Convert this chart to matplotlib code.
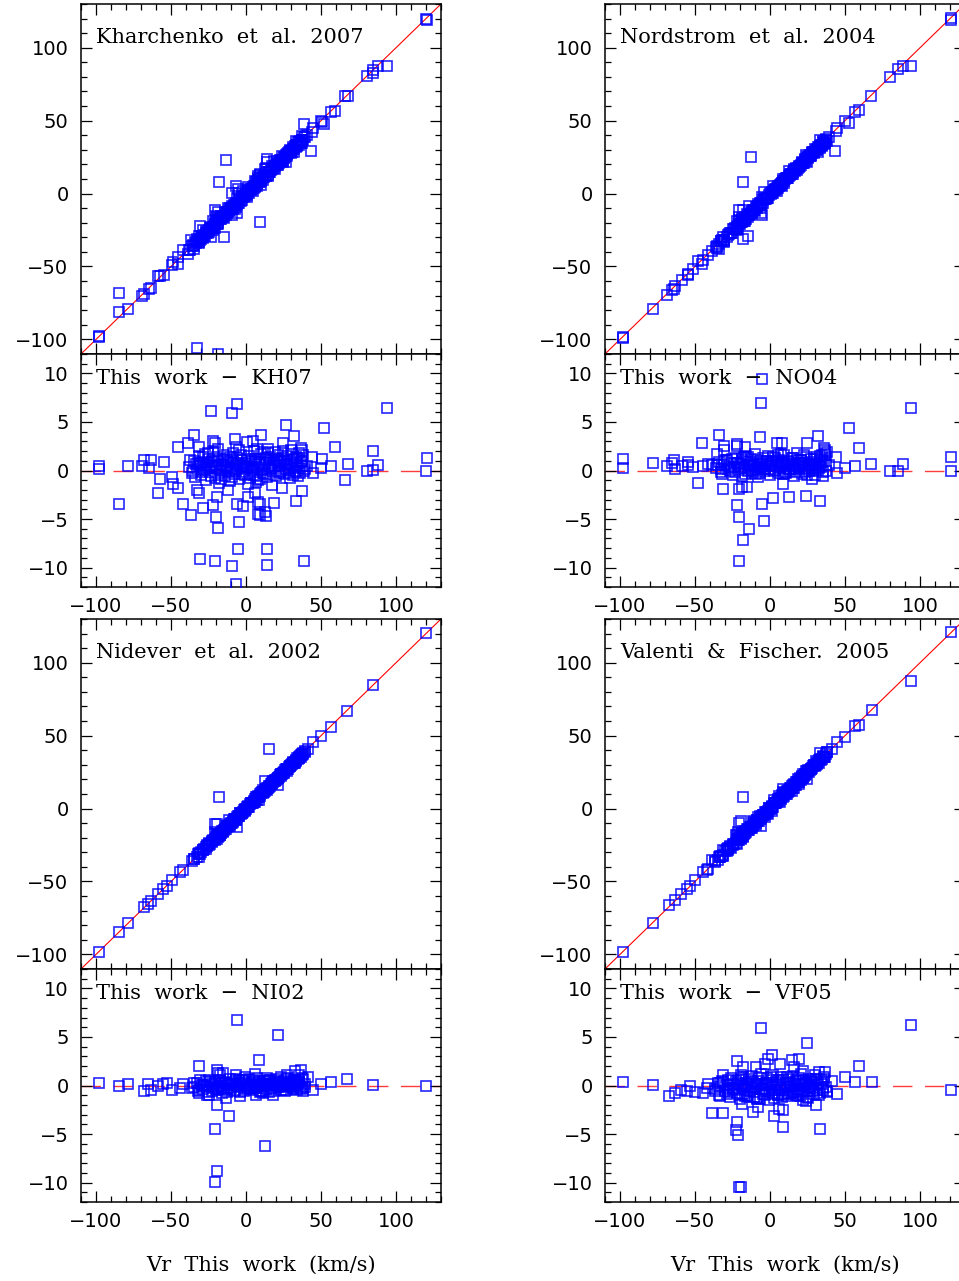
import numpy as np
import matplotlib.pyplot as plt
from matplotlib.ticker import MultipleLocator

# ---- Kharchenko et al. 2007 (KH07) ----
# x = Vr this work, d = this work - literature
kh_sx = [-97.8, -97.8, -78.4, -84.4, -68, -63.5, -69.6, -65, -59, -57.3, -55, -49.6, -48.4, -45.6,
         -45.6, -41.8, -38.9, -36.7, -34.4, -31.3, -31, -28.9, -32.9, -31.3, -23.6, -22.2, -20.7,
         -20.2, -18.4, -21.8, -20.7, -19.1, -11.8, -9.6, -9.1, -6.2, -6.7, -5.1, -4.7, -7.3, -6.7,
         -6.2, -1.8, 0.4, 4.9, 7.1, 9.8, 1.6, 6.2, 7.8, 9.1, 7.8, 9.1, 12.7, 13.1, 13.8, 14.2, 18.9,
         23.8, 24.4, 26.4, 32, 33.1, 37.1, 38.7, 36.7, 37.1, 43.8, 44.9, 50.4, 50, 52.2, 56.7, 59.3,
         66, 67.8, 80.4, 84.4, 84.9, 88.2, 93.8, 120.4, 120]
kh_sd = [0.5, 0.2, 0.5, -3.4, 1.1, 1.1, 0.5, 0.3, -2.3, -0.9, 0.9, -0.7, -1.4, -1.8,
         2.4, -3.4, 2.8, -4.6, 3.7, 2.4, -9.1, -3.9, -2.0, -2.3, 6.1, -3.6, -9.3,
         -4.8, -5.9, 3.0, 2.8, -2.7, -2.0, -9.8, 5.9, 6.9, -11.7, -8.1, -5.3, 3.2, 2.4,
         -3.4, -3.7, 2.9, 3.0, 2.2, 3.7, -2.7, -2.3, -3.2, -3.4, -4.5, -4.6, -4.3, -4.7, -8.1, -9.7, -3.3,
         -1.8, 2.8, 4.7, 3.6, -3.1, -2.1, -9.3, 2.3, 2.1, 1.4, -0.3, 1.2, 0.3, 4.4, 0.5, 2.4,
         -1.0, 0.7, 0.0, 2.0, 0.1, 0.6, 6.4, 1.3, -0.03]
kh_cx = [-38, -36, -35, -33, -32, -30, -29, -28, -27, -26,
         -25, -24, -23, -22, -21, -20, -19, -18, -17, -16,
         -15, -14, -13, -12, -11, -10, -9, -8, -7, -6,
         -5, -4, -3, -2, -1, 0, 1, 2, 3, 4,
         5, 6, 7, 8, 9, 10, 11, 12, 13, 14,
         15, 16, 17, 18, 19, 20, 21, 22, 23, 24,
         25, 26, 27, 28, 29, 30, 31, 32, 33, 34,
         35, 36, 37, 38, 39, -34, -31, -27.5, -24.5, -19.5,
         -15.5, -11.5, -8.5, -4.5, -0.5, 3.5, 7.5, 11.5, 16.5, 21.5,
         26.5, 31.5, 36.5, -21.5, -13.5, -6.5, 1.5, 9.5, 18.5, 27.5,
         -37.5, -35.5, -33.5, -31.5, -29.5, -28.5, -26.5, -25.5, -23.5, -22.5,
         -20.5, -18.5, -17.5, -16.5, -14.5, -12.5, -10.5, -9.5, -7.5, -5.5,
         -3.5, -2.5, -1.5, 0.5, 2.5, 4.5, 5.5, 6.5, 8.5, 10.5,
         12.5, 13.5, 14.5, 15.5, 17.5, 19.5, 20.5, 22.5, 23.5, 24.5,
         25.5, 28.5, 29.5, 30.5, 32.5, 33.5, 34.5, 35.5, 37.5, 38.5,
         -30.2, -18.8, -9.8, -2.2, 6.2, 14.8, 22.2, 29.8, 34.2, 40.5]
kh_cd = [0.4, -0.3, 1.0, 0.2, 0.8, -0.5, 1.4, 0.1, -1.0, 0.6,
         1.2, -0.2, 0.5, 1.9, -0.8, 0.3, 1.0, -1.3, 0.7, 0.0,
         1.6, -0.6, 0.4, 0.9, -1.1, 0.2, 1.8, -0.4, 0.6, 1.3,
         -0.9, 0.5, 1.1, -0.2, 0.8, 0.3, -1.4, 1.5, 0.1, 0.7,
         -0.5, 1.2, 0.4, -1.0, 0.9, 1.7, -0.3, 0.6, 1.1, -0.7,
         0.2, 1.4, -0.1, 0.8, 1.9, -0.6, 0.5, 1.0, 0.0, 1.3,
         -0.4, 0.7, 1.5, 0.1, -0.8, 0.9, 0.4, 1.2, -0.2, 0.6,
         1.8, -0.3, 0.5, 1.6, 0.2, -0.7, 0.5, 1.7, 0.3, 1.4,
         0.6, -0.2, 0.9, 2.1, -0.5, 1.0, -0.6, 1.9, 0.3, 1.6,
         0.2, -0.5, 0.9, 0.6, 1.2, -0.1, 0.4, -0.9, 1.1, 0.7,
         1.1, 0.0, 0.7, 1.5, -0.2, 0.9, 0.3, 1.8, -0.6, 1.0,
         0.5, 2.2, 0.1, -0.9, 1.1, 0.3, 1.4, -0.7, 0.2, 0.8,
         1.6, -0.4, 0.5, 1.2, -0.8, 0.3, 2.0, -1.2, 0.7, 0.1,
         -0.4, 1.3, 2.2, 0.5, -1.5, 0.6, 1.2, -0.2, 0.9, 2.0,
         1.1, -0.3, 0.6, 1.7, 0.0, 1.4, -0.6, 0.3, 1.0, -0.1,
         0.8, -0.5, 1.1, 0.4, 0.9, 1.8, -0.3, 2.1, 1.3, 0.5]
# points seen only in the upper panel (x this work, y literature)
kh_ox = [-13.1, -17.8, 9.3, -32.9, -18.4, -84.4, 43.3, -15.0]
kh_oy = [23.1, 7.6, -19.7, -106, -110, -68.2, 29.5, -29.5]

# ---- Nordstrom et al. 2004 (NO04) ----
no_sx = [-97.8, -97.8, -78.2, -68.9, -65.6, -64, -63.3, -58.9, -54.9, -54.4, -51.1, -47.8, -45.6,
         -44.9, -41.6, -38.9, -35.6, -34.2, -32.2, -31.6, -30.7, -30.7, -22.2, -21.8, -22.2, -16.4,
         -20.7, -20.7, -18.4, -15.6, -18.2, -14.2, -20.4, -6.7, -6.0, -5.6, -4.2, 2.2, 8.9, 12.9,
         4.4, 8, 24, 24.4, 32, 33.3, 27.8, 36.2, 36.7, 34.4, 33.3, 44, 44.9, 50, 52.7, 56.7, 59.3,
         67.3, 80, 85.1, 88.4, 94, 120.7, 120.4, -5.6]
no_sd = [1.2, 0.3, 0.8, 0.5, 0.8, 1.1, 0.2, 0.5, 0.9, 0.6, 0.4, -1.3, 2.8,
         0.5, 0.7, 0.6, 1.7, 3.7, -0.4, -1.9, 2.5, 2.1, -3.6, 2.7, 2.5, 2.4,
         -4.8, -1.9, -1.7, -1.7, -7.2, -6.0, -9.3, 3.4, 7.0, -3.4, -5.2, -2.8, -1.4, -2.7,
         2.8, 2.8, -2.6, 2.8, 3.6, -3.1, -0.9, 2.3, 2.1, 1.6, 1.1, 1.4, -0.3, 0.3, 4.4, 0.5, 2.3,
         0.7, 0.0, -0.1, 0.7, 6.4, 1.4, 0.0, 9.4]
no_cx = [-36, -34, -33, -31, -29, -28, -26, -25, -24, -23,
         -21, -20, -19, -18, -17, -16, -15, -14, -13, -12,
         -11, -10, -9, -8, -7, -6, -5, -4, -3, -2,
         -1, 0, 1, 2, 3, 4, 5, 6, 7, 8,
         9, 10, 11, 12, 13, 14, 15, 16, 17, 18,
         19, 20, 21, 22, 23, 24, 25, 26, 27, 28,
         29, 30, 31, 32, 33, 34, 35, 36, 37, 38,
         -27, -22, -14.5, -9.5, -4.5, 0.5, 5.5, 10.5, 15.5, 20.5,
         25.5, 30.5, 35.5, -18.5, -11.5, -2.5, 3.5, 12.5, 23.5, 33.5,
         -35.5, -32.5, -30.5, -27.5, -25.5, -23.5, -21.5, -19.5, -17.5, -16.5,
         -13.5, -12.5, -10.5, -8.5, -6.5, -5.5, -3.5, -1.5, 1.5, 2.5,
         4.5, 6.5, 7.5, 8.5, 9.5, 11.5, 13.5, 14.5, 16.5, 17.5,
         18.5, 19.5, 21.5, 22.5, 24.5, 26.5, 27.5, 28.5, 29.5, 31.5,
         32.5, 34.5, 36.5, 37.5, 39.5, -8.2, -1.8, 7.8, 16.2, 26.8]
no_cd = [0.3, 0.9, -0.2, 0.6, 1.1, 0.2, 0.8, -0.5, 0.4, 1.3,
         0.1, 0.7, -0.6, 1.0, 0.3, 1.5, 0.0, 0.6, 1.2, -0.3,
         0.5, 1.7, 0.2, -0.7, 0.9, 0.4, 1.3, -0.1, 0.7, 1.0,
         0.2, -0.5, 0.8, 1.4, 0.1, 0.6, -0.3, 1.1, 0.4, 0.9,
         1.6, -0.2, 0.5, 1.0, 0.0, 0.7, 1.3, -0.6, 0.3, 1.8,
         0.5, 1.1, -0.4, 0.8, 0.2, 1.4, 0.6, -0.1, 0.9, 0.3,
         1.2, -0.5, 0.7, 0.1, 1.5, 0.4, -0.2, 1.0, 0.6, 1.9,
         0.0, 0.8, 1.4, -0.4, 0.2, 0.9, 1.6, -0.3, 0.5, 1.1,
         0.3, 0.7, -0.6, 1.2, 0.0, 0.5, 1.3, 0.2, -0.2, 0.8,
         0.6, 0.2, 1.0, 0.4, 1.2, -0.2, 0.8, 0.3, 1.4, -0.4,
         0.9, 0.1, 0.6, 1.1, -0.3, 0.7, 0.2, 1.5, 0.5, -0.1,
         1.0, 0.3, 1.7, -0.4, 0.6, 0.9, 0.2, 1.3, 0.7, -0.2,
         1.1, 0.4, 0.8, 1.6, -0.5, 0.5, 1.2, 0.0, 0.7, 1.4,
         0.3, 0.9, 1.7, -0.1, 0.6, 0.4, 1.0, 0.8, 0.2, 0.6]
no_ox = [-12.9, -17.8, 43.6, -17.8, -14.4]
no_oy = [25.4, 7.6, 29.5, -31.1, -28.8]

# ---- Nidever et al. 2002 (NI02) ----
ni_sx = [-97.8, -84.4, -78.4, -68, -65.1, -63.6, -58.4, -55.1, -52.9, -49.6, -44, -42.2,
         -36.2, -31.3, -31.3, -30.7, -26.2, -24.4, -19.6, -18.4, -15.1, -17.3, -19.1, -11.1,
         -20.7, -19.6, -20.4, -13.3, -6.2, -6.7, -4, -0.7, 6, 6.7, 8.4, 12.7, 13.8, 11.6, 18.2,
         21.6, 23.3, 27.1, 32.7, 36.7, 35.6, 37.8, 39.3, 41.6, 44.9, 49.8, 56.4, 67.3, 84.9, 120]
ni_sd = [0.24, -0.1, 0.14, -0.55, 0.17, -0.45, 0.0, 0.2, 0.3, -0.45, -0.3, 0.2,
         -0.3, 2.0, -0.8, 0.6, -1.0, -1.0, 1.6, 1.3, 1.3, 1.1, -2.0, -3.1,
         -4.5, -8.8, -9.9, -1.3, 6.7, 1.1, -1.1, 0.9, 1.2, -1.0, 2.6, -6.2, 0.8, -0.8, -1.0,
         5.2, 0.9, 1.1, 1.5, 1.6, 1.1, -0.6, -0.2, 0.9, -0.45, 0.17, 0.34, 0.65, 0.03, -0.1]
ni_cx = [-35, -33, -32, -30, -29, -27, -26, -25, -23, -22,
         -21, -20, -19, -18, -17, -16, -14, -13, -12, -11,
         -10, -9, -8, -7, -6, -5, -4, -3, -2, -1,
         0, 1, 2, 3, 4, 5, 6, 7, 8, 9,
         10, 11, 12, 13, 14, 15, 16, 17, 18, 19,
         20, 21, 22, 23, 24, 25, 26, 27, 28, 29,
         30, 31, 32, 33, 34, 35, 36, 37, 38, 39,
         -28, -24, -15, -9.5, -4.5, 0.5, 5.5, 10.5, 15.5, 20.5,
         25.5, 30.5, 35.5, -18.5, -11.5, -2.5, 3.5, 12.5, 23.5, 33.5,
         -34.5, -31.5, -28.5, -26.5, -24.5, -22.5, -20.5, -19.5, -17.5, -16.5,
         -15.5, -13.5, -12.5, -10.5, -8.5, -7.5, -6.5, -5.5, -3.5, -1.5,
         -0.5, 1.5, 2.5, 4.5, 6.5, 7.5, 8.5, 9.5, 11.5, 13.5,
         14.5, 16.5, 17.5, 18.5, 19.5, 21.5, 22.5, 24.5, 26.5, 27.5,
         28.5, 29.5, 31.5, 32.5, 34.5, 36.5, 37.5, -7.2, 8.2, 27.2]
ni_cd = [-0.2, 0.3, -0.6, 0.1, -0.4, 0.5, -0.1, -0.7, 0.2, -0.3,
         0.4, -0.5, 0.0, 0.6, -0.2, -0.8, 0.3, -0.4, 0.1, 0.7,
         -0.3, 0.2, -0.6, 0.5, -0.1, 0.3, -0.7, 0.0, 0.6, -0.4,
         0.2, -0.2, 0.7, -0.5, 0.1, 0.4, -0.3, 0.8, -0.1, 0.3,
         -0.6, 0.0, 0.5, -0.4, 0.2, -0.7, 0.6, 0.1, -0.3, 0.4,
         0.7, -0.2, 0.3, -0.5, 0.0, 0.5, -0.6, 0.2, 0.8, -0.1,
         0.3, -0.4, 0.6, 0.1, -0.5, 0.4, 0.0, -0.3, 0.7, 0.2,
         -0.1, 0.4, -0.5, 0.2, 0.6, -0.3, 0.1, -0.6, 0.5, 0.0,
         0.3, -0.2, 0.4, -0.4, 0.1, 0.6, -0.3, 0.2, -0.1, 0.5,
         0.3, -0.5, 0.1, -0.2, 0.6, -0.6, 0.2, -0.4, 0.5, 0.0,
         -0.3, 0.4, -0.7, 0.1, 0.3, -0.5, 0.7, -0.2, 0.2, -0.6,
         0.4, 0.0, -0.4, 0.6, 0.1, -0.3, 0.5, -0.7, 0.2, -0.1,
         0.6, -0.4, 0.3, -0.6, 0.1, 0.5, -0.2, 0.3, -0.5, 0.7,
         0.0, 0.4, -0.3, 0.6, 0.2, -0.4, 0.8, 0.2, -0.2, 0.1]
ni_ox = [15.6, -17.8]
ni_oy = [40.7, 7.8]

# ---- Valenti & Fischer 2005 (VF05) ----
vf_sx = [-97.8, -78.2, -67.3, -63.3, -59.3, -53.3, -55.6, -50, -44.4, -41.6, -42.2, -38.4, -31.1,
         -31.1, -27.8, -33.3, -33.3, -27.8, -21.8, -22.2, -22.7, -21.1, -20.4, -19.3, -17.8, -19.6,
         -18.9, -11.1, -7.8, -6.2, -9.3, -3.3, -1.1, 1.6, 2.7, 6.7, 8.9, 6.2, 8.9, 12.2, 14.4, 16,
         19.6, 22.2, 24.4, 18.9, 22.2, 24, 30.4, 33.3, 32.9, 36.7, 36, 37.8, 44.9, 41.6, 50, 56.7,
         59.3, 67.8, 94, 120.4]
vf_sd = [0.34, 0.07, -1.1, -0.8, -0.45, 0.0, -0.6, -0.7, -0.8, 0.17, -0.3, -2.85, -2.8,
         1.1, 0.6, 0.24, -1.1, -0.4, 2.5, -3.8, -4.6, -5.1, -10.5, -10.5, 1.9, 1.1,
         -1.9, -2.75, -2.2, 5.9, 1.9, 2.2, 2.75, 3.1, -3.1, 2.2, -2.5, -2.4, -4.3, 0.65, 2.6, 1.9,
         2.7, 1.5, 4.4, -1.1, -1.5, -1.6, -2.0, -4.5, 1.4, 1.4, 0.65, -0.7, -0.9, 0.5, 0.86, 0.34,
         2.0, 0.4, 6.25, -0.45]
vf_cx = [-37, -35, -34, -32, -30, -29, -27, -26, -25, -24,
         -22, -21, -20, -19, -18, -17, -16, -15, -14, -13,
         -12, -11, -10, -9, -8, -7, -6, -5, -4, -3,
         -2, -1, 0, 1, 2, 3, 4, 5, 6, 7,
         8, 9, 10, 11, 12, 13, 14, 15, 16, 17,
         18, 19, 20, 21, 22, 23, 24, 25, 26, 27,
         28, 29, 30, 31, 32, 33, 34, 35, 36, 38,
         -28, -23, -15.5, -9.5, -4.5, 0.5, 5.5, 10.5, 15.5, 20.5,
         25.5, 30.5, -18.5, -11.5, -6.5, -1.5, 3.5, 8.5, 13.5, 23.5,
         -36.5, -33.5, -31.5, -28.5, -26.5, -24.5, -21.5, -20.5, -19.5, -17.5,
         -16.5, -14.5, -13.5, -12.5, -10.5, -8.5, -7.5, -5.5, -3.5, -2.5,
         -0.5, 1.5, 2.5, 4.5, 6.5, 7.5, 9.5, 11.5, 12.5, 14.5,
         16.5, 17.5, 18.5, 19.5, 21.5, 22.5, 24.5, 26.5, 27.5, 28.5,
         29.5, 31.5, 32.5, 34.5, 35.5, 37.5, -9.0, 1.0, 11.0, 21.0]
vf_cd = [-0.4, 0.3, -1.0, 0.5, -0.6, 0.1, -1.2, 0.8, -0.3, 0.2,
         -0.8, 0.6, -1.4, 0.0, 0.9, -0.5, 0.3, -1.1, 0.7, -0.2,
         1.0, -0.7, 0.2, -1.3, 0.5, -0.4, 1.2, -0.9, 0.1, -0.6,
         0.8, -1.5, 0.3, -0.2, 1.1, -0.8, 0.4, -1.0, 0.6, -0.3,
         -1.2, 0.2, -0.5, 0.9, -0.9, 0.3, -0.1, 1.0, -0.7, 0.5,
         -0.4, 0.8, -1.1, 0.1, 0.6, -0.6, 0.3, -1.3, 0.7, -0.2,
         0.4, -0.9, 1.1, -0.5, 0.2, -0.8, 0.6, -0.3, 0.9, -0.6,
         -0.7, 0.5, -1.2, 0.2, -0.4, 0.9, -1.0, 0.3, -0.6, 1.2,
         -0.2, 0.7, -0.9, 0.4, -1.4, 0.1, -0.5, 0.6, -0.8, 0.2,
         -0.6, -0.2, 0.4, -0.9, 0.1, -0.5, 0.3, -1.0, 0.7, -0.3,
         -1.1, 0.2, -0.6, 0.5, -1.2, 0.0, 0.8, -0.4, -1.0, 0.3,
         -0.7, 0.6, -1.3, 0.1, -0.5, 0.9, -0.9, -0.2, 0.4, -0.8,
         0.2, -1.0, 0.6, -0.4, -0.9, 0.3, -1.2, 0.1, 0.5, -0.6,
         -0.3, 0.7, -1.0, 0.2, -0.5, -0.2, -1.4, -0.9, -1.1, -0.7]
vf_ox = [-17.8]
vf_oy = [8.2]

titles = ["Kharchenko  et  al.  2007", "Nordstrom  et  al.  2004",
          "Nidever  et  al.  2002", "Valenti  &  Fischer.  2005"]
labels = ["This  work  \u2212  KH07", "This  work  \u2212  NO04",
          "This  work  \u2212  NI02", "This  work  \u2212  VF05"]
xlabel = "Vr  This  work  (km/s)"

panels = [
    (kh_sx + kh_cx, kh_sd + kh_cd, kh_ox, kh_oy),
    (no_sx + no_cx, no_sd + no_cd, no_ox, no_oy),
    (ni_sx + ni_cx, ni_sd + ni_cd, ni_ox, ni_oy),
    (vf_sx + vf_cx, vf_sd + vf_cd, vf_ox, vf_oy),
]

W, H = 959, 1281
fig = plt.figure(figsize=(W / 100, H / 100), dpi=100)

col_left = [81, 605]
row_top = [4, 619]  # pixel top of the upper panels
ax_w, top_h, res_h = 360, 350, 233

tick_font = "DejaVu Sans"
txt_font = "DejaVu Serif"
blue = (0, 0, 1)


def style(ax):
    ax.tick_params(which="both", direction="in", top=True, right=True,
                   width=0.9, colors="black", labelsize=14)
    ax.tick_params(which="major", length=8)
    ax.tick_params(which="minor", length=4)
    ax.tick_params(axis="y", pad=9)
    ax.tick_params(axis="x", pad=7)
    for s in ax.spines.values():
        s.set_linewidth(1.1)


for i, (x, d, ox, oy) in enumerate(panels):
    c, r = i % 2, i // 2
    x = np.array(x)
    d = np.array(d)
    left = col_left[c] / W
    # upper panel: literature vs this work
    b1 = 1 - (row_top[r] + top_h) / H
    ax1 = fig.add_axes([left, b1, ax_w / W, top_h / H])
    ax1.plot([-110, 130], [-110, 130], color="red", lw=0.8, zorder=1)
    ax1.plot(np.concatenate([x, ox]), np.concatenate([x - d, oy]), "s",
             ms=7, mfc="none", mec=blue, mew=1.2, alpha=0.85,
             clip_on=False, zorder=3)
    ax1.set_xlim(-110, 130)
    ax1.set_ylim(-110, 130)
    ax1.xaxis.set_major_locator(MultipleLocator(50))
    ax1.xaxis.set_minor_locator(MultipleLocator(10))
    ax1.yaxis.set_major_locator(MultipleLocator(50))
    ax1.yaxis.set_minor_locator(MultipleLocator(10))
    style(ax1)
    ax1.set_xticklabels([])
    ax1.set_yticks([-100, -50, 0, 50, 100])
    ax1.set_yticklabels(["\u2212100", "\u221250", "0", "50", "100"], family=tick_font)
    ax1.text(15 / ax_w, 0.905, titles[i], transform=ax1.transAxes,
             family=txt_font, fontsize=15, va="center", ha="left")

    # lower panel: residuals
    b2 = 1 - (row_top[r] + top_h + res_h) / H
    ax2 = fig.add_axes([left, b2, ax_w / W, res_h / H])
    ax2.axhline(0, color="#ff3b3b", lw=1.0, dashes=(14, 9), zorder=1)
    ax2.plot(x, d, "s", ms=7, mfc="none", mec=blue, mew=1.2, alpha=0.85, zorder=3)
    ax2.set_xlim(-110, 130)
    ax2.set_ylim(-12, 12)
    ax2.xaxis.set_major_locator(MultipleLocator(50))
    ax2.xaxis.set_minor_locator(MultipleLocator(10))
    ax2.yaxis.set_major_locator(MultipleLocator(5))
    ax2.yaxis.set_minor_locator(MultipleLocator(1))
    style(ax2)
    ax2.set_xticks([-100, -50, 0, 50, 100])
    ax2.set_xticklabels(["\u2212100", "\u221250", "0", "50", "100"], family=tick_font)
    ax2.set_yticks([-10, -5, 0, 5, 10])
    ax2.set_yticklabels(["\u221210", "\u22125", "0", "5", "10"], family=tick_font)
    ax2.text(15 / ax_w, 0.893, labels[i], transform=ax2.transAxes,
             family=txt_font, fontsize=15, va="center", ha="left")

for c in range(2):
    fig.text((col_left[c] + ax_w / 2) / W, 1 - 1265 / H, xlabel,
             family=txt_font, fontsize=15, ha="center", va="center")

fig.savefig("out.png", dpi=100)
